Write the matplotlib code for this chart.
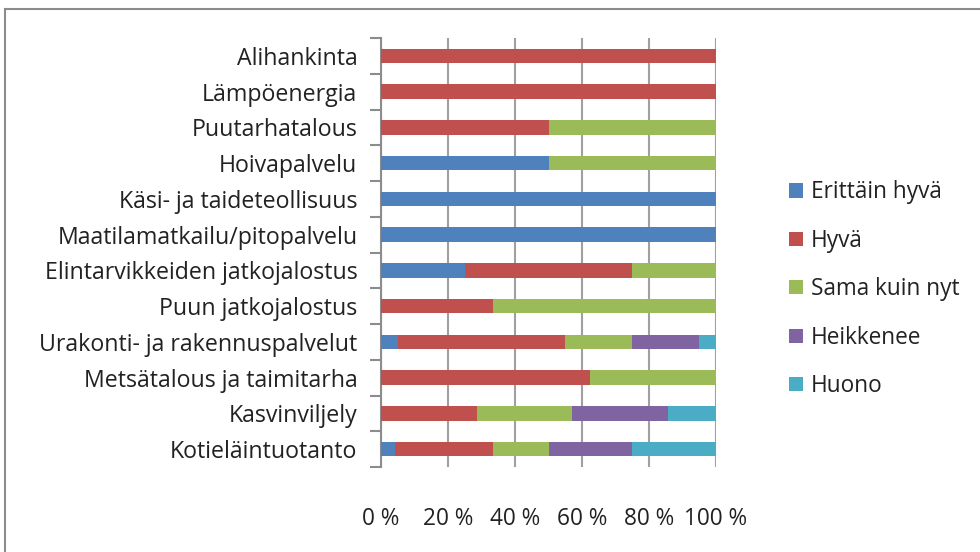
import matplotlib
matplotlib.use('Agg')
from matplotlib import pyplot as plt
from matplotlib.patches import Rectangle
import numpy as np

# toimialat alhaalta ylös
toimialat = ['Kotieläintuotanto', 'Kasvinviljely', 'Metsätalous ja taimitarha',
             'Urakonti- ja rakennuspalvelut', 'Puun jatkojalostus',
             'Elintarvikkeiden jatkojalostus', 'Maatilamatkailu/pitopalvelu',
             'Käsi- ja taideteollisuus', 'Hoivapalvelu', 'Puutarhatalous',
             'Lämpöenergia', 'Alihankinta']

sarjat = ['Erittäin hyvä', 'Hyvä', 'Sama kuin nyt', 'Heikkenee', 'Huono']
erittain_hyva = [4.17, 0, 0, 5, 0, 25, 100, 100, 50, 0, 0, 0]
hyva = [29.17, 28.57, 62.5, 50, 33.33, 50, 0, 0, 0, 50, 100, 100]
sama = [16.67, 28.57, 37.5, 20, 66.67, 25, 0, 0, 50, 50, 0, 0]
heikkenee = [25, 28.57, 0, 20, 0, 0, 0, 0, 0, 0, 0, 0]
huono = [25, 14.29, 0, 5, 0, 0, 0, 0, 0, 0, 0, 0]
varit = ['#4F81BD', '#C0504D', '#9BBB59', '#8064A2', '#4BACC6']

x_ticks = [0, 20, 40, 60, 80, 100]

plt.rcParams['font.family'] = ['Open Sans', 'DejaVu Sans']

fig = plt.figure(figsize=(9.8, 5.52), dpi=100)
fig.patches.append(Rectangle((5 / 980, -0.1), 1.2, 1 - 9 / 552 + 0.1,
                             transform=fig.transFigure, fill=False,
                             edgecolor='#8c8c8c', linewidth=1.5))
ax = fig.add_axes([381 / 980, 1 - 467 / 552, 335 / 980, 429 / 552])

y = np.arange(len(toimialat))
vasen = np.zeros(len(toimialat))
for nimi, arvot, vari in zip(sarjat, [erittain_hyva, hyva, sama, heikkenee, huono], varit):
    arvot = np.array(arvot)
    ax.barh(y, arvot, left=vasen, height=0.41, color=vari, label=nimi, zorder=3)
    vasen += arvot

ax.set_xlim(0, 100)
ax.set_ylim(-0.5, len(toimialat) - 0.5)
ax.set_xticks(x_ticks)
ax.set_xticklabels(['%d %%' % t for t in x_ticks], fontsize=16.3, color='#222222')
ax.set_yticks(y)
ax.set_yticklabels(toimialat, fontsize=16.7, color='#222222')
ax.set_yticks(np.arange(len(toimialat) + 1) - 0.5, minor=True)
ax.tick_params(axis='y', which='major', length=0, pad=17)
ax.tick_params(axis='y', which='minor', length=8, color='#8c8c8c', width=1.5)
ax.tick_params(axis='x', length=0, pad=29)
ax.xaxis.grid(True, color='#a0a0a0', linewidth=1.5, zorder=0)
for s in ['top', 'right', 'bottom']:
    ax.spines[s].set_visible(False)
ax.spines['left'].set_color('#8c8c8c')
ax.spines['left'].set_linewidth(1.5)

fig.legend(loc='upper left', bbox_to_anchor=(769 / 980, 1 - 160 / 552),
           frameon=False, fontsize=16.3, handlelength=0.6, handleheight=0.6,
           handletextpad=0.35, labelspacing=1.08, labelcolor='#222222')

plt.savefig('out.png', dpi=100)
